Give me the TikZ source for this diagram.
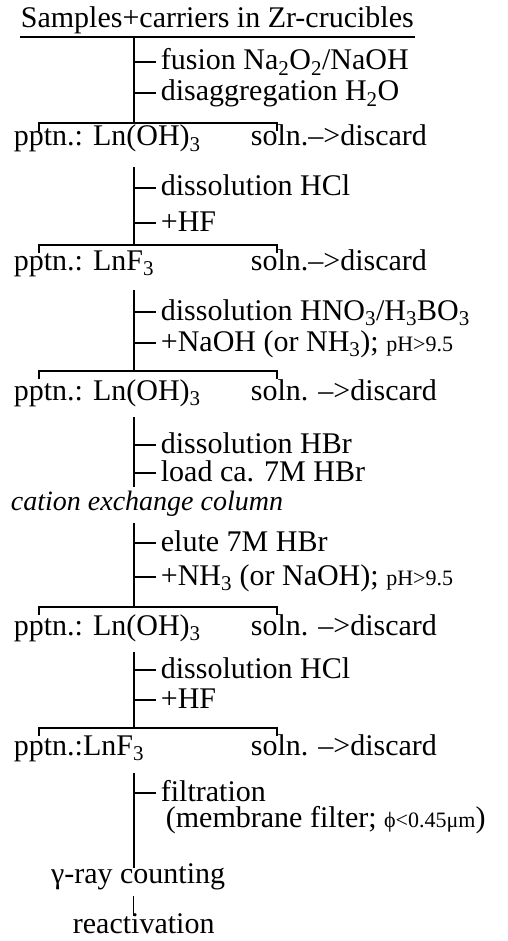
\documentclass[tikz,border=0pt]{standalone}
\usepackage{fontspec}
\setmainfont{Liberation Serif}
\usetikzlibrary{calc}
\tikzset{
  every picture/.style={x=1pt, y=-1pt, line width=1.8pt},
  txt/.style={anchor=base west, inner sep=0pt, font=\fontsize{30}{34}\selectfont},
  stepnote/.style={txt},
  tick/.style={line width=1.5pt, shorten >=4pt},
  trunk/.style={line width=1.8pt},
  thinline/.style={line width=0.8pt},
}
\newcommand{\sm}[1]{{\fontsize{22}{24}\selectfont #1}}
\begin{document}
\begin{tikzpicture}
  \useasboundingbox (0,0) rectangle (507,941);
  % title
  \node[txt, inner ysep=2pt] (title) at (20,28) {Samples+carriers in Zr-crucibles};
  \draw[line width=1.6pt] (title.south west) -- (title.south east);
  % precipitates and discarded solutions
  \foreach \y/\ppt/\sol [count=\i] in {
      146/{pptn.: Ln(OH)\textsubscript{3}}/{soln.–>discard},
      270/{pptn.: LnF\textsubscript{3}}/{soln.–>discard},
      400/{pptn.: Ln(OH)\textsubscript{3}}/{soln. –>discard},
      635/{pptn.: Ln(OH)\textsubscript{3}}/{soln. –>discard},
      755/{pptn.:LnF\textsubscript{3}}/{soln. –>discard}} {
    \node[txt] (p\i) at (13,\y) {\ppt};
    \node[txt] (d\i) at (250,\y) {\sol};
  }
  \node[txt, font=\fontsize{28}{32}\selectfont\itshape] (col) at (10,510) {cation exchange column};
  \node[txt, anchor=base east] (cnt) at (226,883) {γ-ray counting};
  \node[txt] (react) at (72,933) {reactivation};
  % splitting bars
  \foreach \y [count=\i] in {123,245,371,607,728} {
    \coordinate (bl\i) at (39,\y);
    \coordinate (br\i) at (277,\y);
    \draw[trunk] ($(bl\i)+(0,8)$) -- (bl\i) -- (br\i) -- ++(0,8);
  }
  % trunks
  \foreach \a/\b [count=\i] in {36/123, 167/245, 290/371, 417/487, 523/607, 652/728, 773/868} {
    \coordinate (t\i) at (134,\a);
    \coordinate (b\i) at (134,\b);
    \draw[trunk] (t\i) -- (b\i);
  }
  \coordinate (t8) at (133,896);
  \coordinate (b8) at (133,916);
  \draw[thinline] (t8) -- (b8);
  % treatment steps
  \foreach \y/\txt [count=\i] in {
      62/{fusion Na\textsubscript{2}O\textsubscript{2}/NaOH},
      93/{disaggregation H\textsubscript{2}O},
      188/{dissolution HCl},
      223/{+HF},
      312/{dissolution HNO\textsubscript{3}/H\textsubscript{3}BO\textsubscript{3}},
      343/{+NaOH (or NH\textsubscript{3}); \sm{pH>9.5}},
      445/{dissolution HBr},
      473/{load ca. 7M HBr},
      543/{elute 7M HBr},
      577/{+NH\textsubscript{3} (or NaOH); \sm{pH>9.5}},
      670/{dissolution HCl},
      700/{+HF},
      793/{filtration}} {
    \coordinate (k\i) at (134,\y);
    \node[stepnote] (s\i) at (160,\y+8) {\txt};
    \draw[tick] (k\i) -- (s\i.west |- k\i);
  }
  \node[stepnote] (memb) at (165,827) {(membrane filter; \sm{ϕ<0.45μm})};
\end{tikzpicture}
\end{document}
